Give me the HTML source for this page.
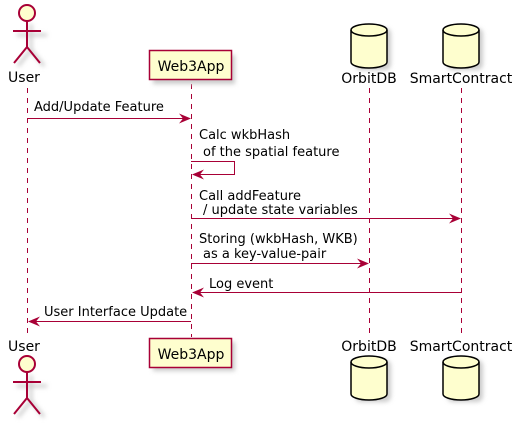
<!DOCTYPE html>
<html><head><style>body{margin:0;background:#fff}</style></head><body>
<svg width="519" height="425" xmlns="http://www.w3.org/2000/svg" font-family="DejaVu Sans, sans-serif" font-size="13">
<defs>
<filter id="sh" x="-20%" y="-20%" width="150%" height="150%"><feGaussianBlur stdDeviation="2"/></filter>
</defs>
<g stroke="#A80036" stroke-dasharray="5,5" stroke-width="1">
<line x1="27.5" y1="88" x2="27.5" y2="337"/>
<line x1="191.5" y1="84" x2="191.5" y2="337"/>
<line x1="369.5" y1="88" x2="369.5" y2="337"/>
<line x1="461.5" y1="88" x2="461.5" y2="337"/>
</g>
<g fill="#ccc" filter="url(#sh)">
<rect x="153" y="55" width="82" height="29"/>
<rect x="153" y="342" width="82" height="29"/>
<rect x="355" y="28" width="36" height="42" rx="6"/>
<rect x="447" y="28" width="36" height="42" rx="6"/>
<rect x="355" y="360" width="36" height="42" rx="6"/>
<rect x="447" y="360" width="36" height="42" rx="6"/>
</g>
<g fill="#FEFECE" stroke="#A80036" stroke-width="1.5">
<rect x="149.5" y="50.5" width="82" height="29"/>
<rect x="149.5" y="338.5" width="82" height="29"/>
</g>
<g text-anchor="middle" fill="#000" font-size="14">
<text x="191" y="71">Web3App</text>
<text x="191" y="359">Web3App</text>
<text x="24" y="82">User</text>
<text x="24" y="351">User</text>
<text x="369" y="83">OrbitDB</text>
<text x="461" y="83">SmartContract</text>
<text x="369" y="351">OrbitDB</text>
<text x="461" y="351">SmartContract</text>
</g>
<g fill="#FEFECE" stroke="#000" stroke-width="1.5">
<path d="M351,30 a18,6 0 0 1 36,0 v32 a18,6 0 0 1 -36,0 z"/><path d="M351,30 a18,6 0 0 0 36,0" fill="none"/>
<path d="M443,30 a18,6 0 0 1 36,0 v32 a18,6 0 0 1 -36,0 z"/><path d="M443,30 a18,6 0 0 0 36,0" fill="none"/>
<path d="M351,362 a18,6 0 0 1 36,0 v32 a18,6 0 0 1 -36,0 z"/><path d="M351,362 a18,6 0 0 0 36,0" fill="none"/>
<path d="M443,362 a18,6 0 0 1 36,0 v32 a18,6 0 0 1 -36,0 z"/><path d="M443,362 a18,6 0 0 0 36,0" fill="none"/>
</g>
<g>
<g stroke="#ccc" stroke-width="3" fill="none" filter="url(#sh)">
<path d="M31,24 v26 M17,35 h30 M31,50 l-13,16 M31,50 l13,16"/>
</g>
<circle cx="27" cy="13" r="8" fill="#FEFECE" stroke="#A80036" stroke-width="2"/>
<path d="M27,21 v26 M13,31 h28 M27,47 l-13,16 M27,47 l13,16" stroke="#A80036" stroke-width="2" fill="none"/>
<g stroke="#ccc" stroke-width="3" fill="none" filter="url(#sh)">
<path d="M31,375 v26 M17,386 h30 M31,401 l-13,16 M31,401 l13,16"/>
</g>
<circle cx="27" cy="364" r="8" fill="#FEFECE" stroke="#A80036" stroke-width="2"/>
<path d="M27,372 v26 M13,382 h28 M27,398 l-13,16 M27,398 l13,16" stroke="#A80036" stroke-width="2" fill="none"/>
</g>
<g stroke="#A80036" stroke-width="1" fill="none">
<line x1="27" y1="118.5" x2="189" y2="118.5"/>
<polyline points="191,161.5 234.5,161.5 234.5,174.5 193,174.5"/>
<line x1="191" y1="218.5" x2="459" y2="218.5"/>
<line x1="191" y1="263.5" x2="367" y2="263.5"/>
<line x1="461" y1="292.5" x2="193" y2="292.5"/>
<line x1="191" y1="321.5" x2="29" y2="321.5"/>
</g>
<g fill="#A80036">
<path d="M191,118.5 l-12,-5 l4,5 l-4,5z"/>
<path d="M192,174.5 l12,-5 l-4,5 l4,5z"/>
<path d="M461,218.5 l-12,-5 l4,5 l-4,5z"/>
<path d="M369,263.5 l-12,-5 l4,5 l-4,5z"/>
<path d="M192,292.5 l12,-5 l-4,5 l4,5z"/>
<path d="M28,321.5 l12,-5 l-4,5 l4,5z"/>
</g>
<g fill="#000">
<text x="34" y="111">Add/Update Feature</text>
<text x="199" y="139">Calc wkbHash</text>
<text x="203" y="156">of the spatial feature</text>
<text x="199" y="200">Call addFeature</text>
<text x="203" y="214">/ update state variables</text>
<text x="199" y="243">Storing (wkbHash, WKB)</text>
<text x="203" y="258">as a key-value-pair</text>
<text x="209" y="288">Log event</text>
<text x="44" y="316">User Interface Update</text>
</g>
</svg>
</body></html>
